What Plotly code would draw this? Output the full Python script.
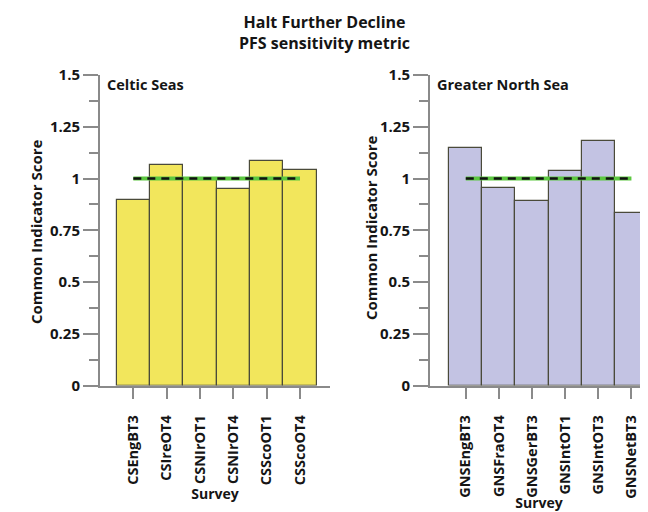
import plotly.graph_objects as go

# ---- data ----
cs_surveys = ["CSEngBT3", "CSIreOT4", "CSNIrOT1", "CSNIrOT4", "CSScoOT1", "CSScoOT4"]
cs_scores = [0.896, 1.064, 0.998, 0.948, 1.083, 1.041]
gns_surveys = ["GNSEngBT3", "GNSFraOT4", "GNSGerBT3", "GNSIntOT1", "GNSIntOT3", "GNSNetBT3"]
gns_scores = [1.147, 0.956, 0.893, 1.037, 1.181, 0.835]
target_value = 1.0
y_tickvals = [0, 0.25, 0.5, 0.75, 1, 1.25, 1.5]
y_ticktext = ["0", "0.25", "0.5", "0.75", "1", "1.25", "1.5"]

FONT = "Open Sans"
OFF = 8  # page body margin
W, H = 648 - OFF, 512 - OFF
TXT = "#151515"
AX = "#8a8a8a"

fig = go.Figure()

def add_panel(cats, vals, fill, xa, ya):
    fig.add_trace(go.Bar(x=cats, y=vals, width=1.0,
                         marker=dict(color=fill, line=dict(color="#4a4a3a", width=1.2)),
                         xaxis=xa, yaxis=ya, showlegend=False))
    fig.add_trace(go.Scatter(x=[cats[0], cats[-1]], y=[target_value, target_value], mode="lines",
                             line=dict(color="#5cc840", width=4), xaxis=xa, yaxis=ya, showlegend=False))
    fig.add_trace(go.Scatter(x=[cats[0], cats[-1]], y=[target_value, target_value], mode="lines",
                             line=dict(color="#111111", width=2.5, dash="8px,6px"),
                             xaxis=xa, yaxis=ya, showlegend=False))

add_panel(cs_surveys, cs_scores, "#f2e65c", "x", "y")
add_panel(gns_surveys, gns_scores, "#c3c3e3", "x2", "y2")

def px_x(p):
    return (p - OFF) / W

def px_y(p):
    return 1 - (p - OFF) / H

ydom = [px_y(385.5), px_y(75)]

def xax(**kw):
    d = dict(type="category", showline=True, linecolor=AX, linewidth=2, ticks="outside",
             ticklen=11, tickwidth=2, tickcolor=AX, tickangle=-90, automargin=False,
             ticklabelstandoff=11,
             tickfont=dict(family=FONT, size=14.5, color=TXT, weight="bold"),
             showgrid=False, zeroline=False,
             title=dict(text="Survey", font=dict(family=FONT, size=14, color=TXT, weight="bold"), standoff=0))
    d.update(kw)
    return d

def yax(**kw):
    d = dict(range=[0, 1.5], tickvals=y_tickvals, ticktext=y_ticktext, showline=True, linecolor=AX,
             linewidth=2, ticks="outside", ticklen=15, tickwidth=2, tickcolor=AX, automargin=False,
             minor=dict(dtick=0.125, ticks="outside", ticklen=9, tickwidth=2, tickcolor=AX),
             tickfont=dict(family=FONT, size=15, color=TXT, weight="bold"),
             showgrid=False, zeroline=False)
    d.update(kw)
    return d

fig.update_layout(
    width=W, height=H, margin=dict(l=0, r=0, t=0, b=0),
    paper_bgcolor="white", plot_bgcolor="white", bargap=0,
    xaxis=xax(domain=[px_x(100), px_x(330)], range=[-1.0, 5.9], anchor="y"),
    yaxis=yax(domain=ydom, anchor="x"),
    xaxis2=xax(domain=[px_x(430), 1.0], range=[-1.08, 5.5], anchor="y2"),
    yaxis2=yax(domain=ydom, anchor="x2"),
    annotations=[
        dict(text="Halt Further Decline<br>PFS sensitivity metric", x=px_x(324), y=px_y(9), xref="paper",
             yref="paper", xanchor="center", yanchor="top", showarrow=False,
             font=dict(family=FONT, size=16, color=TXT, weight="bold")),
        dict(text="Celtic Seas", x=px_x(105), y=px_y(84), xref="paper", yref="paper", xanchor="left",
             yanchor="middle", showarrow=False, font=dict(family=FONT, size=14.5, color=TXT, weight="bold")),
        dict(text="Greater North Sea", x=px_x(435), y=px_y(84), xref="paper", yref="paper", xanchor="left",
             yanchor="middle", showarrow=False, font=dict(family=FONT, size=14.5, color=TXT, weight="bold")),
        dict(text="Common Indicator Score", x=px_x(36), y=px_y(232), xref="paper", yref="paper", textangle=-90,
             xanchor="center", yanchor="middle", showarrow=False,
             font=dict(family=FONT, size=15, color=TXT, weight="bold")),
        dict(text="Common Indicator Score", x=px_x(371), y=px_y(228), xref="paper", yref="paper", textangle=-90,
             xanchor="center", yanchor="middle", showarrow=False,
             font=dict(family=FONT, size=15, color=TXT, weight="bold")),
    ],
)

fig.write_html("out.html")
